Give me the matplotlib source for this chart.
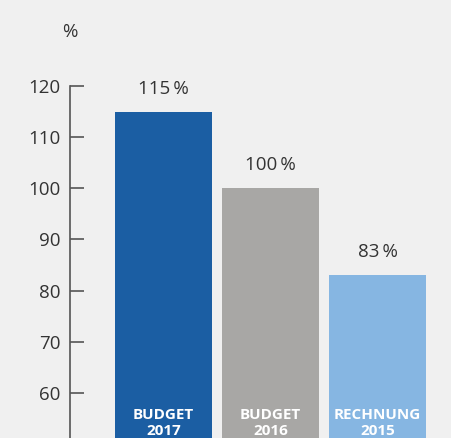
import matplotlib.pyplot as plt

# data
categories = ["BUDGET\n2017", "BUDGET\n2016", "RECHNUNG\n2015"]
values = [115, 100, 83]
value_labels = ["115\u2009%", "100\u2009%", "83\u2009%"]
bar_colors = ["#1b5ea3", "#a8a7a5", "#86b6e2"]
yticks = [60, 70, 80, 90, 100, 110, 120]

plt.rcParams['font.family'] = ['Open Sans', 'DejaVu Sans']
bg = "#f0f0f0"
txt = "#333333"

W, H = 451, 438
fig = plt.figure(figsize=(W / 100, H / 100), dpi=100, facecolor=bg)
ax = fig.add_axes([70 / W, 0, (W - 70) / W, (H - 86) / H])
ax.set_facecolor(bg)

x = range(len(values))
ax.bar(x, values, width=0.907, color=bar_colors, bottom=0)

ax.set_ylim(51.2, 120)
ax.set_xlim(-0.874, 2.687)

for i, (v, lab) in enumerate(zip(values, value_labels)):
    ax.annotate(lab, (i, v), xytext=(0, 23), textcoords="offset pixels",
                ha="center", va="center", fontsize=13.5, color=txt)
    ax.annotate(categories[i], (i, 51.2), xytext=(0, 15), textcoords="offset pixels",
                ha="center", va="center", fontsize=11, color="white",
                fontweight="bold", linespacing=1.2)

for s in ["top", "right", "bottom"]:
    ax.spines[s].set_visible(False)
ax.spines["left"].set_color("#555555")
ax.spines["left"].set_linewidth(1.2)
ax.set_xticks([])
ax.set_yticks(yticks)
ax.tick_params(axis="y", direction="in", length=10, width=1.2, color="#555555",
               labelsize=13.5, labelcolor=txt, pad=7)

fig.text(70 / W, 1 - 32 / H, "%", ha="center", va="center", fontsize=13.5, color=txt)

fig.savefig("out.png", dpi=100, facecolor=bg)
